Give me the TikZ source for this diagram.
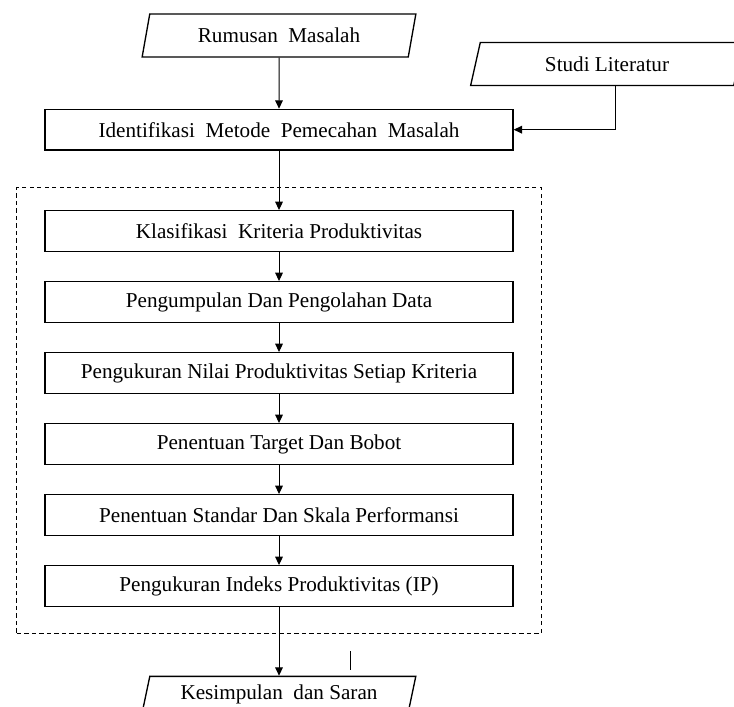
\documentclass[tikz,border=0pt]{standalone}
\usepackage{fontspec}
\setmainfont{Liberation Serif}
\usepackage{xcolor}
\usepackage{tikz}
\usetikzlibrary{arrows.meta, positioning, shapes.geometric, fit}

\begin{document}
\begin{tikzpicture}[
        node distance=17.4pt,
        every node/.style={font=\fontsize{12.7}{14}\selectfont},
        box/.style={rectangle, draw=black, line width=0.8pt, align=center, minimum width=280.8pt, minimum height=24.4pt, inner sep=2pt},
        io/.style={trapezium, trapezium left angle=77, trapezium right angle=103, trapezium stretches=true, draw=black, line width=0.8pt, align=center, minimum width=164.4pt, minimum height=25.8pt, inner sep=2pt},
        dashbox/.style={rectangle, draw=black, line width=0.7pt, dash pattern=on 2.5pt off 2pt, inner xsep=16.5pt, inner ysep=14.6pt},
        arrow/.style={-{Triangle[length=5pt, width=4.6pt]}, line width=0.6pt}
    ]
        \useasboundingbox (0,0) rectangle (440.4pt,-423.6pt);
        \clip (0,0) rectangle (440.4pt,-423.6pt);

        \node[io] (rumusan) at (167.4pt,-21.3pt) {Rumusan\ \ Masalah};
        \node[io] (studi) at (364.2pt,-38.4pt) {Studi Literatur};
        \node[box, below=30.6pt of rumusan] (ident) {Identifikasi\ \ Metode\ \ Pemecahan\ \ Masalah};
        \node[box, below=35.6pt of ident] (klas) {Klasifikasi\ \ Kriteria Produktivitas};
        \node[box, below=of klas] (data) {Pengumpulan Dan Pengolahan Data};
        \node[box, below=of data] (nilai) {Pengukuran Nilai Produktivitas Setiap Kriteria};
        \node[box, below=of nilai] (target) {Penentuan Target Dan Bobot};
        \node[box, below=of target] (standar) {Penentuan Standar Dan Skala Performansi};
        \node[box, below=of standar] (ip) {Pengukuran Indeks Produktivitas (IP)};
        \node[io, minimum height=21.6pt, below=41.2pt of ip] (kesimpulan) {Kesimpulan\ \ dan Saran};
        \node[dashbox, fit=(klas)(ip), yshift=-1.2pt] (proses) {};

        \coordinate (tick1) at (210pt,-390.6pt);
        \coordinate (tick2) at (210pt,-402pt);

        \draw[arrow] (rumusan) -- (ident);
        \draw[arrow] ([xshift=4.8pt]studi.south) |- (ident.east);
        \draw[arrow] (ident) -- (klas);
        \draw[arrow] (klas) -- (data);
        \draw[arrow] (data) -- (nilai);
        \draw[arrow] (nilai) -- (target);
        \draw[arrow] (target) -- (standar);
        \draw[arrow] (standar) -- (ip);
        \draw[arrow] (ip) -- (ip |- kesimpulan.north);
        \draw[line width=0.6pt] (tick1) -- (tick2);
    \end{tikzpicture}
\end{document}
